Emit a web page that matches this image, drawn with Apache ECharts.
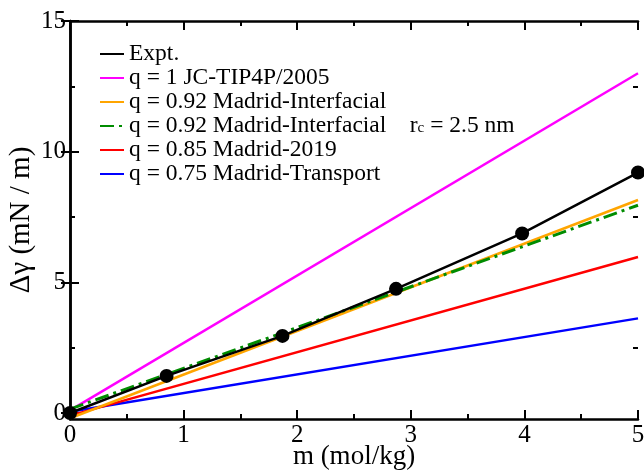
<!DOCTYPE html>
<html>
<head>
<meta charset="utf-8">
<script src="https://cdn.jsdelivr.net/npm/echarts@6/dist/echarts.min.js"></script>
<style>html,body{margin:0;padding:0;background:#fff}#c{width:644px;height:471px}</style>
</head>
<body>
<div id="c"></div>
<script>
// Experimental data
const mExpt = [0, 0.85, 1.87, 2.87, 3.98, 5.0];
const gExpt = [0, 1.42, 2.95, 4.75, 6.87, 9.2];
// Model lines (endpoints)
const mLine = [0, 5];
const gJC = [0.1, 13.0];
const gMI = [-0.2, 8.15];
const gMI25 = [0.15, 7.95];
const g2019 = [-0.1, 5.97];
const gTr = [0.05, 3.62];
// Axis ticks
const yMajor = [0, 5, 10, 15];
const yMinor = [2.5, 7.5, 12.5];

const names = {
  expt: 'Expt.',
  jc: 'q = 1 JC-TIP4P/2005',
  mi: 'q = 0.92 Madrid-Interfacial',
  mi25: 'q = 0.92 Madrid-Interfacial rc',
  m19: 'q = 0.85 Madrid-2019',
  tr: 'q = 0.75 Madrid-Transport'
};
const pair = (xs, ys) => xs.map((x, i) => [x, ys[i]]);
const F = 'Liberation Serif, Times New Roman, serif';

const chart = echarts.init(document.getElementById('c'));
const baseY = {
  type: 'value', min: -0.23, max: 15,
  axisLine: {show: true, lineStyle: {color: '#000', width: 2.5}},
  splitLine: {show: false},
  axisTick: {inside: true, length: 9, lineStyle: {width: 2, color: '#000'}, customValues: yMajor},
  axisLabel: {show: false}
};
const minorY = {
  type: 'value', min: -0.23, max: 15,
  axisLine: {show: false},
  splitLine: {show: false},
  axisTick: {inside: true, length: 5, lineStyle: {width: 2, color: '#000'}, customValues: yMinor},
  axisLabel: {show: false}
};
const baseX = {
  type: 'value', min: 0, max: 5, interval: 1,
  axisLine: {show: true, onZero: false, lineStyle: {color: '#000', width: 2.5}},
  splitLine: {show: false},
  axisTick: {inside: true, length: 9, lineStyle: {width: 2, color: '#000'}},
  minorTick: {show: true, splitNumber: 2, length: 5, lineStyle: {width: 2, color: '#000'}},
  axisLabel: {show: false}
};

chart.setOption({
  animation: false,
  backgroundColor: '#fff',
  grid: {left: 70, right: 6, top: 21, bottom: 52, containLabel: false, outerBoundsMode: 'none'},
  xAxis: [
    Object.assign({}, baseX, {
      position: 'bottom',
      name: 'm (mol/kg)', nameLocation: 'middle', nameGap: 24, nameMoveOverlap: false,
      nameTextStyle: {fontFamily: F, fontSize: 27, color: '#000'},
      axisLabel: {show: true, fontFamily: F, fontSize: 25, color: '#000', margin: 4}
    }),
    Object.assign({}, baseX, {position: 'top'})
  ],
  yAxis: [
    Object.assign({}, baseY, {
      position: 'left',
      name: 'Δγ (mN / m)', nameLocation: 'middle', nameGap: 34, nameMoveOverlap: false,
      nameTextStyle: {fontFamily: F, fontSize: 29, color: '#000'},
      axisLabel: {show: true, fontFamily: F, fontSize: 25, color: '#000', margin: 4, customValues: yMajor}
    }),
    Object.assign({}, baseY, {position: 'right'}),
    Object.assign({}, minorY, {position: 'left'}),
    Object.assign({}, minorY, {position: 'right'})
  ],
  legend: {
    orient: 'vertical', left: 94, top: 37,
    itemWidth: 24, itemHeight: 12, itemGap: 0,
    itemStyle: {opacity: 0},
    data: [names.expt, names.jc, names.mi, names.mi25, names.m19, names.tr],
    textStyle: {
      fontFamily: F, fontSize: 23.5, color: '#000', lineHeight: 22.6,
      rich: {
        t: {fontFamily: F, fontSize: 23.5, color: '#000', lineHeight: 18.6},
        sub: {fontFamily: F, fontSize: 15, color: '#000', lineHeight: 4, verticalAlign: 'bottom'}
      }
    },
    formatter: function (n) {
      if (n === names.mi25) return '{t|q = 0.92 Madrid-Interfacial    r}{sub|c}{t| = 2.5 nm}';
      return n;
    }
  },
  series: [
    {name: names.jc, type: 'line', data: pair(mLine, gJC), symbol: 'none', lineStyle: {color: '#ff00ff', width: 2.5}, itemStyle: {color: '#ff00ff'}},
    {name: names.tr, type: 'line', data: pair(mLine, gTr), symbol: 'none', lineStyle: {color: '#0000ff', width: 2.5}, itemStyle: {color: '#0000ff'}},
    {name: names.m19, type: 'line', data: pair(mLine, g2019), symbol: 'none', lineStyle: {color: '#ff0000', width: 2.5}, itemStyle: {color: '#ff0000'}},
    {name: names.mi, type: 'line', data: pair(mLine, gMI), symbol: 'none', lineStyle: {color: '#ffa500', width: 2.5}, itemStyle: {color: '#ffa500'}},
    {name: names.mi25, type: 'line', data: pair(mLine, gMI25), symbol: 'none', lineStyle: {color: '#008c00', width: 3, type: [14, 5, 3, 5]}, itemStyle: {color: '#008c00'}},
    {name: names.expt, type: 'line', data: pair(mExpt, gExpt), symbol: 'none', lineStyle: {color: '#000', width: 2.5}, itemStyle: {color: '#000'}, z: 5},
    {name: 'Expt. points', type: 'scatter', data: pair(mExpt, gExpt), symbol: 'circle', symbolSize: 14, itemStyle: {color: '#000', opacity: 1}, z: 6}
  ]
});
</script>
</body>
</html>
